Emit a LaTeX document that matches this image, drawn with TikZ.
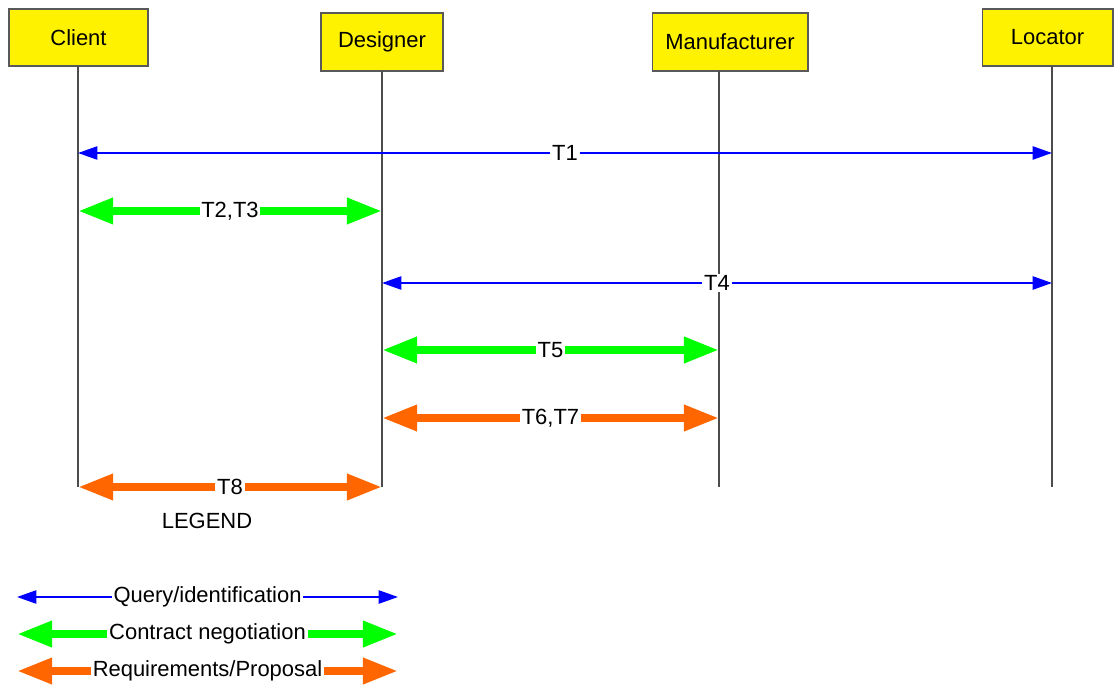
\documentclass[tikz,border=0pt]{standalone}
\usepackage{fontspec}
\setmainfont{Liberation Sans}
\usetikzlibrary{arrows.meta}
\definecolor{lightgreen}{RGB}{0,255,0}
\definecolor{deeporange}{RGB}{255,102,0}
\tikzset{
  actor/.style={draw=black!65,fill=yellow,inner sep=0pt,line width=0.6pt},
  lifeline/.style={black!70,line width=0.6pt},
  query/.style={blue,line width=1.1pt,
    {Triangle[length=11pt,width=7.5pt]}-{Triangle[length=11pt,width=7.5pt]}},
  contract/.style={lightgreen,line width=4.5pt,
    {Triangle[length=20pt,width=14pt]}-{Triangle[length=20pt,width=14pt]}},
  proposal/.style={deeporange,line width=4.5pt,
    {Triangle[length=20pt,width=14pt]}-{Triangle[length=20pt,width=14pt]}},
  lbl/.style={fill=white,text=black,inner sep=1pt}
}
\begin{document}
\begin{tikzpicture}[x=0.02cm,y=-0.02cm,every node/.style={font=\fontsize{12.5}{15}\selectfont}]
\useasboundingbox (0,0) rectangle (1114,685);
% actors
\node[actor,minimum width=2.78cm,minimum height=1.14cm] (client) at (78.5,37.5) {Client};
\node[actor,minimum width=2.44cm,minimum height=1.16cm] (designer) at (382,42) {Designer};
\node[actor,minimum width=3.12cm,minimum height=1.16cm] (manufacturer) at (730,42) {Manufacturer};
\node[actor,minimum width=2.62cm,minimum height=1.14cm] (locator) at (1047.5,37.5) {Locator};
% lifelines
\coordinate (cl-top) at (78,66);  \coordinate (cl-bot) at (78,487);
\coordinate (de-top) at (382,71); \coordinate (de-bot) at (382,487);
\coordinate (ma-top) at (719,71); \coordinate (ma-bot) at (719,487);
\coordinate (lo-top) at (1052,66); \coordinate (lo-bot) at (1052,487);
\draw[lifeline] (cl-top) -- (cl-bot);
\draw[lifeline] (de-top) -- (de-bot);
\draw[lifeline] (ma-top) -- (ma-bot);
\draw[lifeline] (lo-top) -- (lo-bot);
% transactions
\coordinate (t1-a) at (78,153);  \coordinate (t1-b) at (1052,153);
\coordinate (t2-a) at (78,211);  \coordinate (t2-b) at (382,211);
\coordinate (t4-a) at (382,283); \coordinate (t4-b) at (1052,283);
\coordinate (t5-a) at (382,350); \coordinate (t5-b) at (719,350);
\coordinate (t6-a) at (382,418); \coordinate (t6-b) at (719,418);
\coordinate (t8-a) at (78,487);  \coordinate (t8-b) at (382,487);
\draw[query] (t1-a) -- node[lbl] (t1) {T1} (t1-b);
\draw[contract] (t2-a) -- node[lbl] (t2) {T2,T3} (t2-b);
\draw[query] (t4-a) -- node[lbl] (t4) {T4} (t4-b);
\draw[contract] (t5-a) -- node[lbl] (t5) {T5} (t5-b);
\draw[proposal] (t6-a) -- node[lbl] (t6) {T6,T7} (t6-b);
\draw[proposal] (t8-a) -- node[lbl] (t8) {T8} (t8-b);
% legend
\node (legend) at (207,521) {LEGEND};
\coordinate (lq-a) at (17,597); \coordinate (lq-b) at (398,597);
\coordinate (lc-a) at (17,634); \coordinate (lc-b) at (398,634);
\coordinate (lp-a) at (17,671); \coordinate (lp-b) at (398,671);
\draw[query] (lq-a) -- node[lbl] (lq) {Query/identification} (lq-b);
\draw[contract] (lc-a) -- node[lbl] (lc) {Contract negotiation} (lc-b);
\draw[proposal] (lp-a) -- node[lbl] (lp) {Requirements/Proposal} (lp-b);
\end{tikzpicture}
\end{document}
